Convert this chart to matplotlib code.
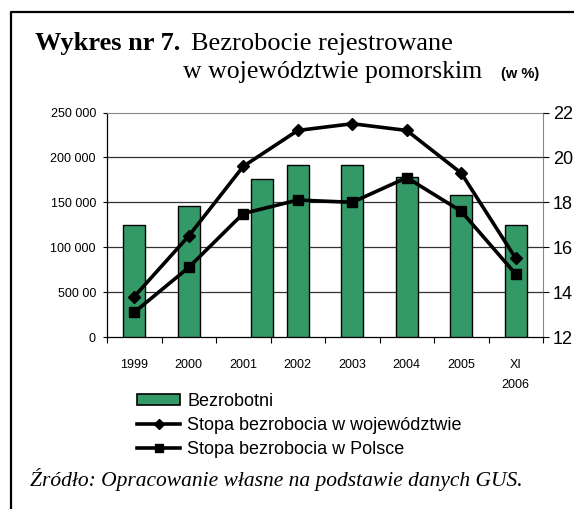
import numpy as np
import matplotlib
matplotlib.use('Agg')
import matplotlib.pyplot as plt
from matplotlib.lines import Line2D
from matplotlib.patches import Patch

years = ['1999', '2000', '2001', '2002', '2003', '2004', '2005', 'XI\n2006']
bezrobotni = [125000, 146000, 175500, 191000, 191000, 178000, 158500, 124500]
stopa_woj = [13.8, 16.5, 19.6, 21.2, 21.5, 21.2, 19.3, 15.5]
stopa_pl = [13.1, 15.1, 17.5, 18.1, 18.0, 19.1, 17.6, 14.8]

left_ticks = [0, 50000, 100000, 150000, 200000, 250000]
left_labels = ['0', '500 00', '100 000', '150 000', '200 000', '250 000']
right_ticks = [12, 14, 16, 18, 20, 22]

# the 2001 bar sits off-centre in the original
bar_shift = [0, 0, 0.34, 0, 0, 0, 0, 0]

GREEN = '#339966'
SANS = 'Liberation Sans'
SERIF = 'Liberation Serif'

fig = plt.figure(figsize=(5.74, 5.09), dpi=100)
ax = fig.add_axes([107 / 574, 1 - 337 / 509, 436 / 574, 224.5 / 509])
ax2 = ax.twinx()

x = np.arange(len(years))
ax.bar(x + np.array(bar_shift), bezrobotni, width=0.41, color=GREEN,
       edgecolor='black', linewidth=1.0, zorder=3)
ax.set_xlim(-0.5, len(years) - 0.5)
ax.set_ylim(0, 250000)
ax.set_yticks(left_ticks)
ax.set_yticklabels(left_labels, fontsize=9, family=SANS)
ax.tick_params(axis='y', direction='out', length=3, width=0.8, pad=5)
for t in left_ticks[1:-1]:
    ax.axhline(t, color='#333333', lw=0.9, zorder=1)

ax.set_xticks(x)
ax.set_xticklabels(years, fontsize=9, family=SANS, linespacing=1.9)
ax.tick_params(axis='x', length=0, pad=16)
ax.set_xticks(np.arange(len(years) + 1) - 0.5, minor=True)
ax.tick_params(axis='x', which='minor', direction='out', length=4, width=0.8)

ax.spines['top'].set_color('#888888')
ax.spines['right'].set_color('#888888')
ax.spines['left'].set_linewidth(0.9)
ax.spines['bottom'].set_linewidth(0.9)

ax2.plot(x, stopa_woj, color='black', lw=2.6, marker='D', ms=6.5, zorder=4)
ax2.plot(x, stopa_pl, color='black', lw=2.6, marker='s', ms=7, zorder=4)
ax2.set_ylim(12, 22)
ax2.set_yticks(right_ticks)
ax2.set_yticklabels([str(v) for v in right_ticks], fontsize=13, family=SANS)
ax2.tick_params(axis='y', direction='out', length=4, width=0.8, pad=3)
for s in ['top', 'right', 'left', 'bottom']:
    ax2.spines[s].set_visible(False)

handles = [
    Patch(facecolor=GREEN, edgecolor='black', linewidth=1.2),
    Line2D([], [], color='black', lw=2.6, marker='D', ms=5),
    Line2D([], [], color='black', lw=2.6, marker='s', ms=5.5),
]
labels = ['Bezrobotni', 'Stopa bezrobocia w województwie', 'Stopa bezrobocia w Polsce']
fig.legend(handles, labels, loc='upper left', bbox_to_anchor=(137 / 574, 1 - 393 / 509),
           frameon=False, borderpad=0, borderaxespad=0, handlelength=2.4,
           handleheight=0.5, handletextpad=0.38, labelspacing=0.38,
           prop={'family': SANS, 'size': 13})

# title
fig.text(35 / 574, 1 - 50 / 509, 'Wykres nr 7.', family=SERIF, weight='bold', fontsize=19)
fig.text(191 / 574, 1 - 50 / 509, 'Bezrobocie rejestrowane', family=SERIF, fontsize=19)
fig.text(183 / 574, 1 - 78 / 509, 'w województwie pomorskim', family=SERIF, fontsize=18.5)
fig.text(501 / 574, 1 - 78 / 509, '(w %)', family=SANS, weight='bold', fontsize=10.5)

fig.text(30 / 574, 1 - 486 / 509, 'Źródło: Opracowanie własne na podstawie danych GUS.',
         family=SERIF, style='italic', fontsize=15.5)

# outer frame (left and top edges)
fig.add_artist(Line2D([10.5 / 574, 10.5 / 574, 1.0], [0, 1 - 12 / 509, 1 - 12 / 509],
                      transform=fig.transFigure, color='black', lw=1.6))

fig.savefig('out.png', dpi=100)
